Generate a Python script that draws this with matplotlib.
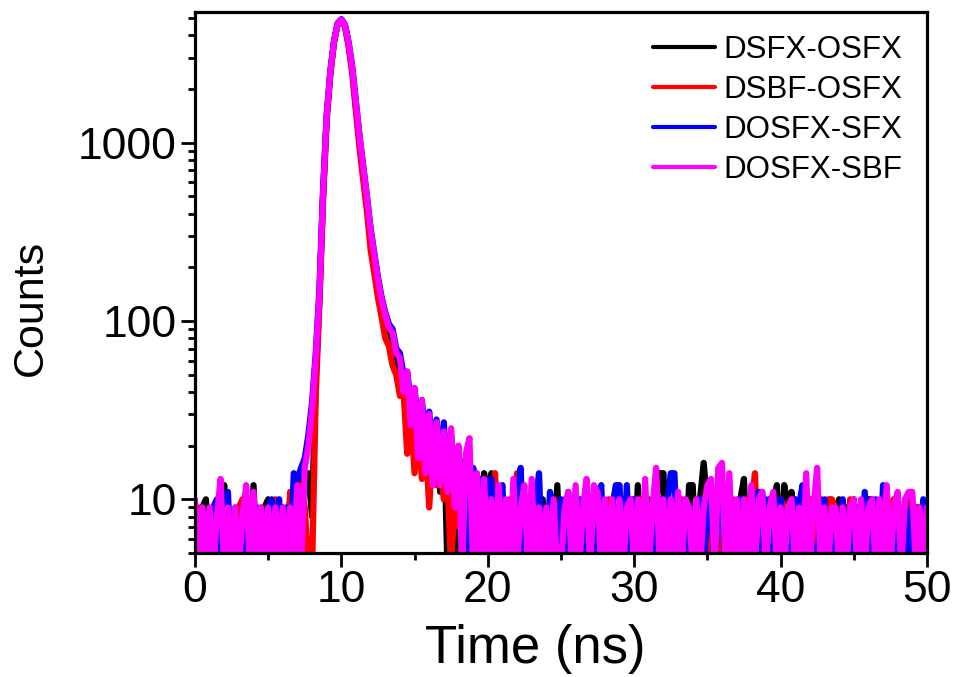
import numpy as np
import matplotlib
matplotlib.use("Agg")
import matplotlib.pyplot as plt
from matplotlib.ticker import (FixedLocator, FuncFormatter, NullFormatter,
                               LogLocator, MultipleLocator)

plt.rcParams['font.family'] = ['Liberation Sans', 'DejaVu Sans']

# ---------------- data (counts per 0.25 ns channel, 0 .. 50 ns) ----------------
# values below 5 fall under the bottom of the axis (clipped, as in the original)
time_step_ns = 0.25
series_labels = ["DSFX-OSFX", "DSBF-OSFX", "DOSFX-SFX", "DOSFX-SBF"]
series_colors = ["#000000", "#FF0000", "#0000FF", "#FF00FF"]

counts_dsfx_osfx = [
    4, 8, 9, 10, 4, 8, 4, 9, 12, 4,
    8, 4, 9, 4, 8, 4, 12, 4, 4, 9,
    10, 4, 8, 4, 9, 4, 10, 9, 11, 13,
    12, 14, 8, 48, 132, 500, 1400, 2480, 3690, 4640,
    4900, 4500, 3520, 2520, 1560, 990, 660, 450, 290, 210,
    155, 120, 96, 82, 74, 58, 54, 40, 44, 26,
    36, 19, 30, 16, 27, 13, 24, 11, 25, 4,
    14, 4, 12, 9, 16, 7, 13, 10, 8, 14,
    10, 14, 4, 9, 10, 4, 9, 4, 10, 4,
    9, 10, 4, 9, 4, 10, 4, 9, 4, 12,
    4, 9, 4, 10, 4, 9, 10, 4, 9, 4,
    10, 4, 9, 4, 10, 4, 9, 10, 4, 9,
    4, 12, 4, 9, 10, 4, 9, 14, 14, 4,
    9, 4, 10, 9, 4, 12, 12, 4, 10, 16,
    9, 4, 10, 4, 9, 4, 10, 9, 4, 10,
    13, 4, 9, 10, 4, 9, 4, 10, 9, 12,
    4, 12, 9, 11, 4, 9, 4, 10, 4, 9,
    4, 10, 9, 4, 9, 4, 10, 4, 9, 4,
    10, 4, 9, 4, 10, 10, 4, 9, 4, 4,
    9, 10, 4, 4, 9, 4, 9, 9, 9, 4,
    8,
]

counts_dsbf_osfx = [
    4, 9, 4, 8, 4, 8, 4, 9, 4, 4,
    8, 4, 9, 10, 4, 8, 4, 4, 9, 4,
    8, 4, 10, 4, 9, 4, 11, 10, 4, 12,
    9, 4, 4, 38, 125, 470, 1330, 2420, 3650, 4620,
    4880, 4450, 3450, 2420, 1480, 920, 610, 410, 250, 185,
    135, 105, 80, 72, 56, 50, 38, 40, 18, 30,
    14, 26, 13, 22, 9, 20, 12, 16, 10, 13,
    4, 11, 7, 10, 4, 14, 9, 14, 4, 11,
    4, 9, 14, 4, 9, 4, 10, 4, 14, 4,
    9, 4, 10, 4, 9, 4, 4, 10, 4, 9,
    4, 10, 4, 9, 4, 10, 4, 9, 4, 10,
    9, 4, 9, 10, 4, 9, 4, 10, 4, 10,
    10, 9, 10, 4, 9, 4, 10, 4, 9, 10,
    4, 4, 9, 10, 4, 9, 4, 10, 4, 9,
    10, 4, 9, 4, 10, 9, 4, 10, 4, 9,
    4, 10, 9, 14, 4, 11, 4, 10, 9, 4,
    10, 9, 4, 10, 10, 4, 9, 4, 10, 10,
    4, 9, 4, 10, 10, 9, 4, 9, 4, 10,
    4, 9, 4, 10, 4, 9, 4, 9, 4, 10,
    9, 10, 4, 9, 4, 10, 4, 9, 4, 9,
    5,
]

counts_dosfx_sfx = [
    8, 4, 9, 4, 4, 9, 10, 4, 4, 11,
    4, 9, 4, 8, 4, 9, 4, 9, 4, 4,
    9, 10, 4, 10, 4, 9, 4, 14, 13, 15,
    17, 23, 35, 66, 150, 540, 1440, 2520, 3720, 4680,
    4920, 4580, 3650, 2650, 1680, 1080, 735, 500, 330, 240,
    176, 136, 112, 96, 90, 70, 66, 50, 52, 34,
    42, 26, 36, 22, 31, 18, 28, 15, 27, 12,
    23, 10, 19, 8, 17, 4, 15, 12, 13, 4,
    12, 13, 4, 9, 12, 4, 9, 4, 10, 15,
    4, 9, 4, 9, 14, 4, 4, 11, 9, 4,
    10, 4, 11, 4, 9, 10, 4, 9, 10, 4,
    9, 12, 4, 4, 9, 12, 12, 4, 12, 4,
    10, 9, 4, 10, 4, 9, 4, 10, 4, 9,
    14, 14, 4, 9, 10, 4, 9, 4, 10, 4,
    10, 9, 4, 10, 9, 4, 10, 4, 9, 10,
    4, 9, 4, 9, 11, 4, 10, 9, 4, 9,
    10, 4, 9, 4, 10, 9, 12, 4, 9, 4,
    4, 9, 10, 4, 4, 9, 4, 10, 4, 9,
    4, 9, 4, 11, 4, 9, 10, 4, 12, 9,
    4, 4, 9, 4, 10, 4, 9, 4, 4, 10,
    8,
]

counts_dosfx_sbf = [
    10, 4, 9, 5, 9, 4, 8, 13, 4, 9,
    4, 9, 4, 8, 12, 4, 11, 4, 9, 5,
    9, 4, 9, 4, 9, 4, 9, 5, 12, 4,
    15, 20, 32, 62, 140, 520, 1420, 2500, 3700, 4650,
    4900, 4550, 3600, 2600, 1650, 1060, 720, 490, 320, 235,
    170, 132, 108, 92, 86, 66, 62, 40, 52, 26,
    42, 17, 36, 14, 30, 12, 27, 12, 24, 11,
    25, 9, 20, 4, 18, 22, 4, 14, 4, 13,
    4, 10, 4, 12, 4, 10, 4, 13, 4, 9,
    12, 4, 13, 4, 9, 4, 9, 4, 10, 4,
    4, 9, 11, 4, 12, 4, 9, 13, 4, 12,
    11, 4, 10, 4, 10, 4, 10, 4, 9, 10,
    4, 10, 4, 13, 4, 9, 15, 4, 10, 4,
    10, 4, 11, 4, 10, 9, 4, 10, 4, 9,
    12, 13, 4, 15, 16, 4, 14, 4, 10, 4,
    10, 4, 12, 4, 10, 11, 4, 9, 11, 4,
    9, 4, 9, 10, 4, 9, 4, 14, 4, 9,
    15, 4, 9, 4, 9, 9, 4, 9, 4, 9,
    10, 4, 10, 4, 9, 10, 4, 10, 4, 12,
    4, 9, 11, 4, 10, 11, 11, 4, 9, 4,
    9,
]

x_ticks = [0, 10, 20, 30, 40, 50]
y_ticks = [10, 100, 1000]

# ---------------- figure ----------------
fig = plt.figure(figsize=(9.58, 6.77), dpi=100)
ax = fig.add_axes([0.2035, 0.1832, 0.7641, 0.7991])

all_series = [counts_dsfx_osfx, counts_dsbf_osfx, counts_dosfx_sfx, counts_dosfx_sbf]
for vals, lab, col in zip(all_series, series_labels, series_colors):
    t = np.arange(len(vals)) * time_step_ns
    ax.plot(t, vals, color=col, lw=4.5, label=lab,
            solid_joinstyle='round', solid_capstyle='round')

ax.set_yscale('log')
ax.set_xlim(0, 50)
ax.set_ylim(5, 5400)

ax.xaxis.set_major_locator(FixedLocator(x_ticks))
ax.xaxis.set_minor_locator(MultipleLocator(5))
ax.yaxis.set_major_locator(FixedLocator(y_ticks))
ax.yaxis.set_major_formatter(FuncFormatter(lambda v, p: f"{v:g}"))
ax.yaxis.set_minor_locator(LogLocator(base=10, subs=np.arange(2, 10)))
ax.yaxis.set_minor_formatter(NullFormatter())

ax.tick_params(which='major', direction='out', length=10, width=2,
               labelsize=32, top=False, right=False)
ax.tick_params(which='minor', direction='out', length=5, width=2,
               top=False, right=False)
ax.tick_params(axis='x', which='major', pad=2)
ax.tick_params(axis='y', which='major', pad=3)

for sp in ax.spines.values():
    sp.set_linewidth(2.3)

ax.set_xlabel('Time (ns)', fontsize=38)
ax.set_ylabel('Counts', fontsize=31)
ax.xaxis.set_label_coords(0.4645, -0.131)
ax.yaxis.set_label_coords(-0.197, 0.453)

leg = ax.legend(loc='upper left', bbox_to_anchor=(0.6257, 0.958), frameon=False,
                fontsize=22.5, handlelength=2.0, handletextpad=0.25,
                labelspacing=0.32, borderpad=0, borderaxespad=0)
for h in leg.get_lines():
    h.set_linewidth(3.0)

fig.savefig('out.png', dpi=100)
